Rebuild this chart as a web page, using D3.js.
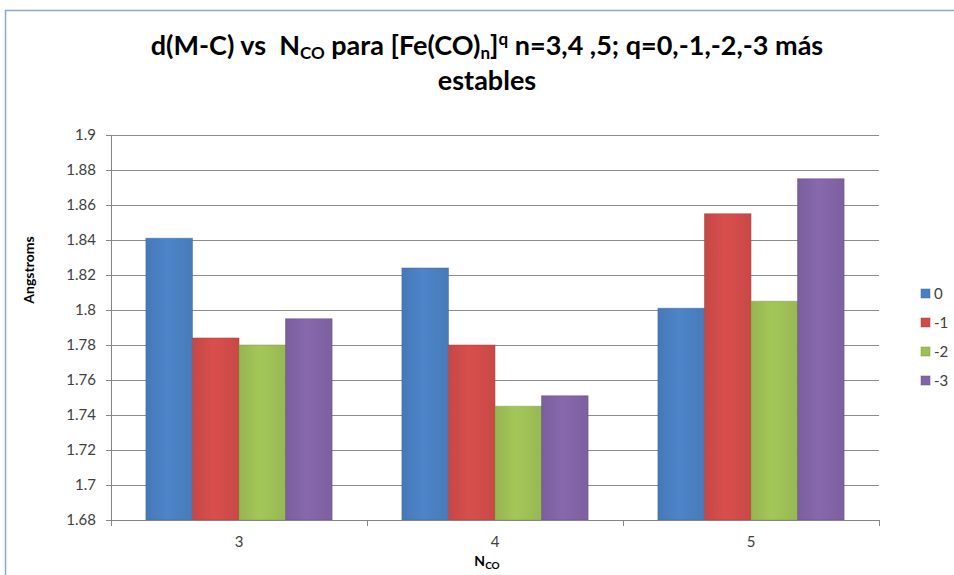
<!DOCTYPE html>
<html>
<head>
<meta charset="utf-8">
<script src="https://cdn.jsdelivr.net/npm/d3@7"></script>
<style>
  body { margin: 0; background: #fff; }
  text { font-family: Lato, "Open Sans", sans-serif; }
</style>
</head>
<body>
<div id="chart"></div>
<script>
// data
let categories = ["3", "4", "5"];
let seriesNames = ["0", "-1", "-2", "-3"];
let values0 = [1.841, 1.824, 1.801];
let values1 = [1.784, 1.780, 1.855];
let values2 = [1.780, 1.745, 1.805];
let values3 = [1.795, 1.751, 1.875];
let yTicks = [1.68, 1.7, 1.72, 1.74, 1.76, 1.78, 1.8, 1.82, 1.84, 1.86, 1.88, 1.9];
let colors = ["#4a7fc1", "#cf4c4a", "#9dbf55", "#8164a6"];

let allSeries = [values0, values1, values2, values3];

let W = 954, H = 575;
let margin = {top: 135, right: 75, bottom: 55, left: 111},
    width = 879 - margin.left,
    height = 520 - margin.top;

let svg = d3.select("#chart").append("svg")
    .attr("width", W)
    .attr("height", H);

// chart frame
svg.append("rect")
    .attr("x", 5.5).attr("y", 10.5)
    .attr("width", W + 10).attr("height", H + 10)
    .attr("fill", "none")
    .attr("stroke", "#8da6c9")
    .attr("stroke-width", 1.5);

let defs = svg.append("defs");
colors.forEach((c, i) => {
    let g = defs.append("linearGradient")
        .attr("id", "grad" + i)
        .attr("x1", "0").attr("x2", "1").attr("y1", "0").attr("y2", "0");
    g.append("stop").attr("offset", "0%").attr("stop-color", d3.color(c).darker(0.15));
    g.append("stop").attr("offset", "45%").attr("stop-color", d3.color(c).brighter(0.12));
    g.append("stop").attr("offset", "100%").attr("stop-color", d3.color(c).darker(0.1));
});

let g = svg.append("g")
    .attr("transform", "translate(" + margin.left + "," + margin.top + ")");

let x0 = d3.scaleBand().domain(categories).range([0, width]).paddingInner(0).paddingOuter(0);
let x1 = d3.scaleBand().domain(seriesNames).range([0, x0.bandwidth()]).paddingOuter(0.75);
let y = d3.scaleLinear().domain([1.68, 1.9]).range([height, 0]);

// gridlines
g.selectAll(".grid").data(yTicks.slice(1))
    .enter().append("line")
    .attr("class", "grid")
    .attr("x1", 0).attr("x2", width)
    .attr("y1", d => Math.round(y(d)) + 0.5)
    .attr("y2", d => Math.round(y(d)) + 0.5)
    .attr("stroke", "#8c8c8c")
    .attr("stroke-width", 1);

// bars
let groups = g.selectAll(".cat").data(categories)
    .enter().append("g")
    .attr("class", "cat")
    .attr("transform", d => "translate(" + x0(d) + ",0)");

groups.selectAll("rect")
    .data((d, ci) => seriesNames.map((s, si) => ({s: s, si: si, v: allSeries[si][ci]})))
    .enter().append("rect")
    .attr("x", d => x1(d.s))
    .attr("width", x1.bandwidth())
    .attr("y", d => y(d.v))
    .attr("height", d => height - y(d.v))
    .attr("fill", d => "url(#grad" + d.si + ")")
    .attr("stroke", d => d3.color(colors[d.si]).darker(0.6))
    .attr("stroke-opacity", 0.5)
    .attr("stroke-width", 1);

// y axis
let yAxis = g.append("g")
    .call(d3.axisLeft(y).tickValues(yTicks).tickSize(5).tickPadding(10).tickFormat(d3.format("")));
yAxis.select(".domain").attr("stroke", "#868686");
yAxis.selectAll(".tick line").attr("stroke", "#868686");
yAxis.selectAll(".tick text").attr("fill", "#404040").style("font-size", "15px");

// x axis
let xAxis = g.append("g")
    .attr("transform", "translate(0," + height + ")")
    .call(d3.axisBottom(x0).tickSize(0).tickPadding(16));
xAxis.select(".domain").attr("stroke", "#868686");
xAxis.selectAll(".tick text").attr("fill", "#404040").style("font-size", "15px");
xAxis.selectAll(".sep").data([0, 1, 2, 3])
    .enter().append("line")
    .attr("class", "sep")
    .attr("x1", i => i * x0.step() + 0.5).attr("x2", i => i * x0.step() + 0.5)
    .attr("y1", 0).attr("y2", 6)
    .attr("stroke", "#868686");

// title
let title = svg.append("text")
    .attr("x", 487).attr("y", 55)
    .attr("text-anchor", "middle")
    .style("font-size", "27px")
    .style("font-weight", "bold")
    .attr("fill", "#000");
title.append("tspan").text("d(M-C) vs \u00a0N");
title.append("tspan").attr("dy", 4).style("font-size", "17px").text("CO");
title.append("tspan").attr("dy", -4).text(" para [Fe(CO)");
title.append("tspan").attr("dy", 4).style("font-size", "17px").text("n");
title.append("tspan").attr("dy", -4).text("]");
title.append("tspan").attr("dy", -10).style("font-size", "17px").text("q");
title.append("tspan").attr("dy", 10).text(" n=3,4 ,5; q=0,-1,-2,-3 más");
svg.append("text")
    .attr("x", 487).attr("y", 90)
    .attr("text-anchor", "middle")
    .style("font-size", "27px")
    .style("font-weight", "bold")
    .text("estables");

// axis titles
svg.append("text")
    .attr("transform", "translate(34,270) rotate(-90)")
    .attr("text-anchor", "middle")
    .style("font-size", "14px")
    .style("font-weight", "bold")
    .text("Angstroms");

let xt = svg.append("text")
    .attr("x", 487).attr("y", 566)
    .attr("text-anchor", "middle")
    .style("font-size", "14px")
    .style("font-weight", "bold");
xt.append("tspan").text("N");
xt.append("tspan").attr("dy", 3).style("font-size", "10px").text("CO");

// legend
let legend = svg.append("g").attr("transform", "translate(921,289)");
let items = legend.selectAll(".item").data(seriesNames)
    .enter().append("g")
    .attr("class", "item")
    .attr("transform", (d, i) => "translate(0," + (i * 29) + ")");
items.append("rect")
    .attr("width", 9).attr("height", 9)
    .attr("fill", (d, i) => colors[i])
    .attr("stroke", (d, i) => d3.color(colors[i]).darker(0.6))
    .attr("stroke-opacity", 0.5);
items.append("text")
    .attr("x", 13).attr("y", 10)
    .attr("fill", "#404040")
    .style("font-size", "15px")
    .text(d => d);
</script>
</body>
</html>
